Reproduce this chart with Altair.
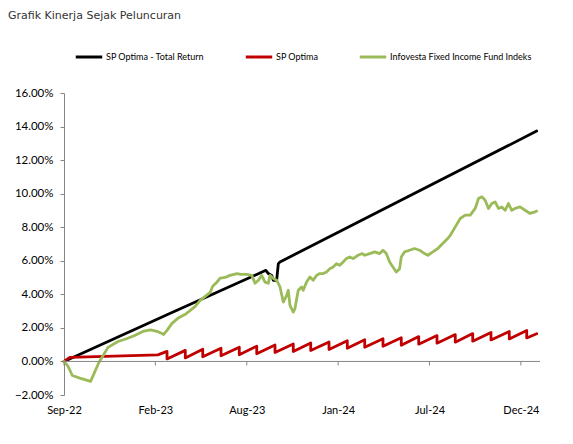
import altair as alt
import pandas as pd

chart_title = "Grafik Kinerja Sejak Peluncuran"

series_names = ["SP Optima - Total Return", "SP Optima", "Infovesta Fixed Income Fund Indeks"]
series_colors = ["#000000", "#C00000", "#9BBB59"]

x_tick_values = [0, 110, 220, 330, 440, 550]
x_tick_labels = ["Sep-22", "Feb-23", "Aug-23", "Jan-24", "Jul-24", "Dec-24"]
y_tick_values = [-2, 0, 2, 4, 6, 8, 10, 12, 14, 16]

# trading-day index vs cumulative return (%)
black_idx = [0, 128, 243, 246, 250, 252, 256, 258, 260, 569]
black_val = [0.00, 2.87, 5.43, 5.24, 5.13, 4.84, 4.84, 5.83, 5.93, 13.73]

red_idx = [0, 7, 113,
           124, 124, 146, 146, 167, 167, 189, 189, 211, 211, 232, 232, 254, 254,
           276, 276, 297, 297, 319, 319, 341, 341, 362, 362, 384, 384, 406, 406,
           427, 427, 449, 449, 471, 471, 492, 492, 514, 514, 536, 536, 557, 557,
           569]
red_val = [0.00, 0.24, 0.39,
           0.60, 0.15, 0.66, 0.21, 0.73, 0.28, 0.79, 0.34, 0.85, 0.40, 0.91, 0.46,
           0.98, 0.53, 1.04, 0.59, 1.10, 0.65, 1.16, 0.71, 1.23, 0.78, 1.29, 0.84,
           1.35, 0.90, 1.41, 0.96, 1.48, 1.03, 1.54, 1.09, 1.60, 1.15, 1.66, 1.21,
           1.73, 1.28, 1.79, 1.34, 1.85, 1.40,
           1.65]

green_idx = [0, 5, 10, 19, 32, 42, 53, 65, 76, 85, 95, 104, 112, 118, 120, 124, 130,
             137, 146, 152, 158, 164, 170, 176, 179, 184, 188, 194, 200, 208, 213,
             220, 226, 230, 234, 238, 242, 246, 248, 252, 256, 260, 264, 268, 270,
             272, 276, 278, 282, 286, 288, 292, 296, 300, 304, 308, 312, 316, 320,
             324, 328, 332, 336, 340, 344, 348, 354, 359, 362, 368, 374, 380, 384,
             388, 392, 396, 400, 404, 406, 410, 416, 422, 428, 434, 438, 444, 450,
             455, 461, 465, 471, 477, 483, 489, 495, 499, 503, 507, 511, 515, 519,
             523, 527, 531, 535, 539, 543, 549, 555, 561, 567, 569]
green_val = [0.00, -0.30, -0.84, -0.99, -1.19, -0.06, 0.84, 1.19, 1.37, 1.55, 1.79,
             1.88, 1.79, 1.67, 1.61, 1.85, 2.27, 2.57, 2.81, 3.04, 3.28, 3.64, 3.88,
             4.12, 4.48, 4.72, 4.96, 5.01, 5.13, 5.24, 5.19, 5.19, 5.13, 4.66, 4.84,
             5.13, 4.73, 4.66, 5.13, 4.94, 4.84, 4.44, 3.54, 3.94, 4.24, 3.34, 2.94,
             3.15, 4.24, 4.44, 4.24, 4.73, 5.03, 4.84, 5.13, 5.24, 5.24, 5.33, 5.53,
             5.63, 5.83, 5.73, 5.93, 6.13, 6.23, 6.13, 6.33, 6.43, 6.33, 6.43, 6.53,
             6.43, 6.63, 6.43, 5.93, 5.63, 5.33, 5.53, 6.23, 6.53, 6.63, 6.73, 6.63,
             6.43, 6.33, 6.53, 6.73, 6.99, 7.28, 7.52, 8.02, 8.52, 8.72, 8.72, 9.12,
             9.71, 9.81, 9.61, 9.12, 9.41, 9.51, 9.12, 9.21, 9.01, 9.41, 9.01, 9.12,
             9.21, 9.01, 8.82, 8.91, 8.96]

rows = []
for name, xs, ys in zip(series_names, [black_idx, red_idx, green_idx], [black_val, red_val, green_val]):
    for i, (xv, yv) in enumerate(zip(xs, ys)):
        rows.append({"series": name, "idx": xv, "ret": yv, "seq": i})
df = pd.DataFrame(rows)

label_map = "{" + ",".join(f"'{v}':'{l}'" for v, l in zip(x_tick_values, x_tick_labels)) + "}"

FONT = "Lato"
AXIS_GRAY = "#868686"

x_scale = alt.Scale(domain=[0, 573], nice=False, zero=False)
y_scale = alt.Scale(domain=[-2, 16], nice=False)

x_axis = alt.Axis(values=x_tick_values, labelExpr=f"{label_map}[datum.value]",
                  title=None, grid=False, domain=False, ticks=False, tickSize=0,
                  labelPadding=9, labelFont=FONT, labelFontSize=11,
                  labelColor="#000000", labelFlush=False, labelOverlap=False)
y_axis = alt.Axis(values=y_tick_values, labelExpr="format(datum.value, '.2f') + '%'",
                  title=None, grid=False, domainColor=AXIS_GRAY, tickColor=AXIS_GRAY,
                  tickSize=4, labelPadding=7, labelFont=FONT, labelFontSize=11.5,
                  labelColor="#000000", labelOverlap=False, labelFlush=False)

lines = alt.Chart(df).mark_line(strokeWidth=2.8, strokeCap="round", strokeJoin="round").encode(
    x=alt.X("idx:Q", scale=x_scale, axis=x_axis),
    y=alt.Y("ret:Q", scale=y_scale, axis=y_axis),
    color=alt.Color("series:N", scale=alt.Scale(domain=series_names, range=series_colors),
                    sort=series_names,
                    legend=alt.Legend(title=None, orient="none", legendX=10, legendY=-51,
                                      direction="horizontal", symbolType="stroke",
                                      symbolStrokeWidth=3, symbolSize=700, labelOffset=2,
                                      columnPadding=34, labelFont=FONT, labelFontSize=9,
                                      labelColor="#000000", labelLimit=400, padding=0)),
    order=alt.Order("seq:Q"),
    detail="series:N",
)

zero_line = alt.Chart(pd.DataFrame({"idx": [0], "ret": [0]})).mark_rule(color=AXIS_GRAY, strokeWidth=1).encode(
    y=alt.Y("ret:Q", scale=y_scale, axis=y_axis)
)

tick_df = pd.DataFrame({"idx": x_tick_values, "ret": [0] * len(x_tick_values), "bot": [-0.24] * len(x_tick_values)})
zero_ticks = alt.Chart(tick_df).mark_rule(color=AXIS_GRAY, strokeWidth=1).encode(
    x=alt.X("idx:Q", scale=x_scale, axis=x_axis),
    y=alt.Y("ret:Q", scale=y_scale, axis=y_axis),
    y2="bot:Q",
)

title_mark = alt.Chart(pd.DataFrame({"t": [chart_title]})).mark_text(
    align="left", baseline="alphabetic", font="DejaVu Sans", fontSize=11, color="#333333"
).encode(x=alt.value(-56), y=alt.value(-74), text="t:N")

chart = alt.layer(lines, zero_line, zero_ticks, title_mark).properties(
    width=476, height=302,
    autosize=alt.AutoSizeParams(type="none"),
    padding={"left": 56, "top": 85, "right": 25, "bottom": 41},
).configure(background="white", view=alt.ViewConfig(stroke=None))

chart.save("out.html", embed_options={"renderer": "svg", "actions": False})
